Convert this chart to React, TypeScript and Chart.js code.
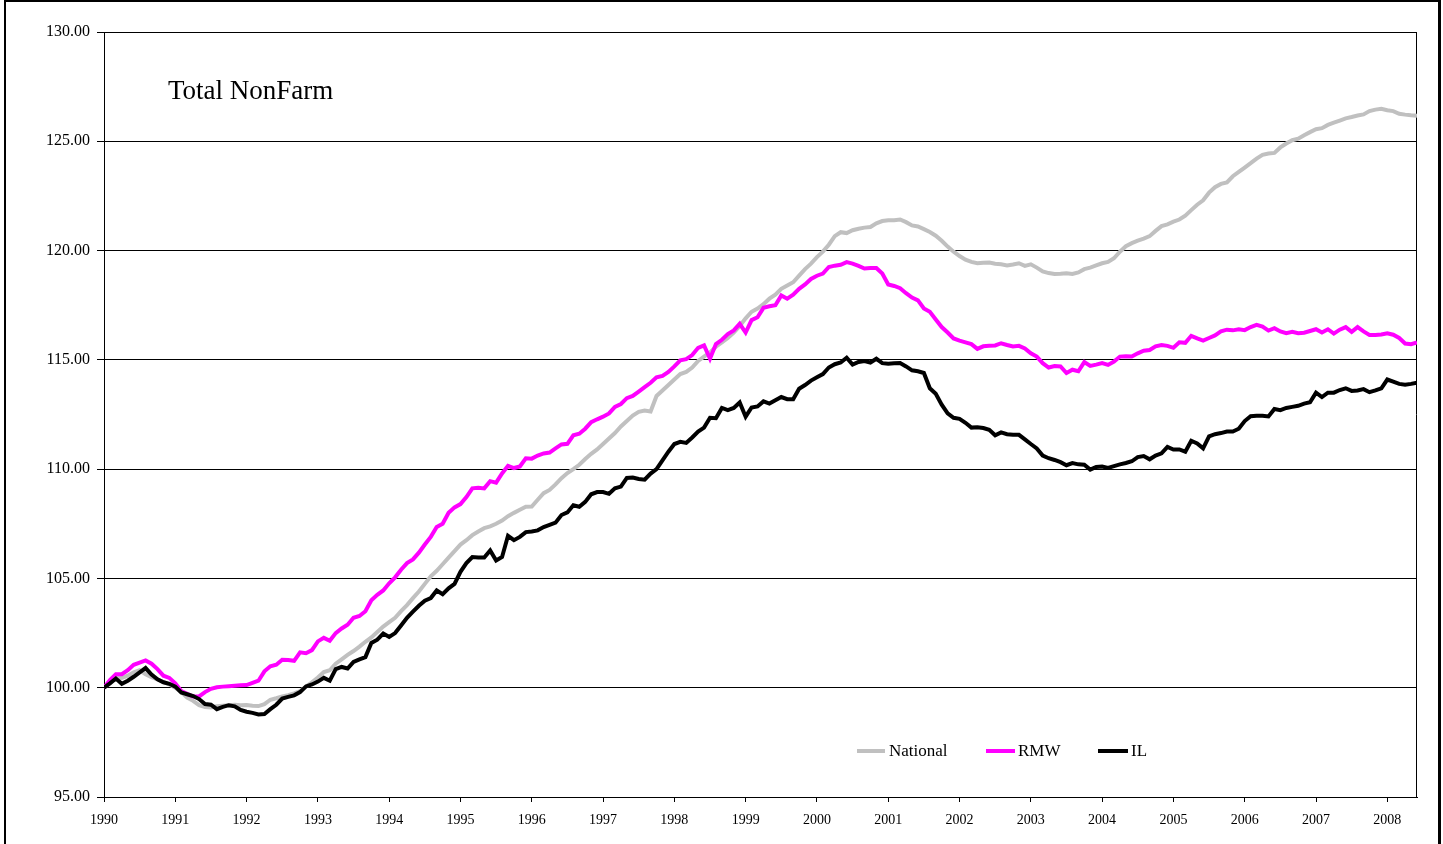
import { useEffect, useRef } from "react";
import { Chart, registerables } from "chart.js";

Chart.register(...registerables);

const TITLE = "Total NonFarm";
const START_YEAR = 1990;
const YEAR_LABELS = ["1990","1991","1992","1993","1994","1995","1996","1997","1998","1999","2000","2001","2002","2003","2004","2005","2006","2007","2008"];
const Y_MIN = 95;
const Y_MAX = 130;
const Y_STEP = 5;
const SERIES_NAMES = ["National", "RMW", "IL"];
const SERIES_COLORS = ["#c0c0c0", "#ff00ff", "#000000"];

// Monthly index values, Jan 1990 .. Jun 2008
const NATIONAL = [
  100.00,100.25,100.47,100.45,100.55,100.70,100.80,100.62,100.48,100.38,100.27,100.15,
  100.00,99.80,99.55,99.40,99.20,99.12,99.10,99.15,99.18,99.20,99.22,99.20,
  99.21,99.18,99.16,99.25,99.45,99.52,99.60,99.66,99.74,99.85,100.05,100.25,
  100.47,100.72,100.80,101.10,101.30,101.50,101.68,101.88,102.10,102.30,102.55,102.80,
  103.00,103.20,103.50,103.78,104.10,104.40,104.75,105.10,105.35,105.65,105.95,106.25,
  106.55,106.75,106.98,107.15,107.30,107.38,107.50,107.65,107.85,108.00,108.14,108.28,
  108.29,108.60,108.90,109.05,109.30,109.59,109.82,110.00,110.20,110.46,110.70,110.90,
  111.15,111.40,111.65,111.95,112.20,112.45,112.62,112.68,112.64,113.35,113.60,113.85,
  114.10,114.35,114.45,114.65,114.95,115.15,115.34,115.60,115.80,116.00,116.25,116.55,
  116.90,117.20,117.35,117.55,117.80,117.98,118.25,118.40,118.55,118.85,119.15,119.40,
  119.70,119.95,120.27,120.66,120.84,120.80,120.93,121.00,121.05,121.08,121.25,121.35,
  121.39,121.39,121.42,121.30,121.15,121.10,120.98,120.85,120.68,120.45,120.18,119.95,
  119.75,119.58,119.48,119.42,119.44,119.45,119.40,119.37,119.32,119.36,119.42,119.30,
  119.37,119.22,119.05,118.97,118.93,118.94,118.96,118.93,119.00,119.15,119.22,119.32,
  119.42,119.48,119.65,119.95,120.20,120.34,120.45,120.55,120.66,120.90,121.12,121.20,
  121.32,121.42,121.60,121.85,122.10,122.30,122.65,122.90,123.05,123.12,123.40,123.60,
  123.80,124.00,124.21,124.38,124.44,124.47,124.72,124.90,125.05,125.12,125.28,125.42,
  125.55,125.60,125.75,125.85,125.95,126.05,126.11,126.18,126.23,126.38,126.45,126.49,
  126.42,126.38,126.26,126.22,126.19,126.17
];

const RMW = [
  100.00,100.35,100.62,100.62,100.80,101.05,101.15,101.25,101.10,100.85,100.55,100.45,
  100.20,99.85,99.72,99.60,99.60,99.80,99.95,100.02,100.05,100.07,100.09,100.11,
  100.12,100.22,100.32,100.75,100.98,101.05,101.28,101.27,101.23,101.62,101.58,101.72,
  102.12,102.28,102.15,102.50,102.71,102.88,103.20,103.28,103.50,104.00,104.25,104.45,
  104.78,105.05,105.40,105.70,105.87,106.18,106.55,106.90,107.35,107.50,108.00,108.25,
  108.40,108.72,109.12,109.15,109.12,109.45,109.38,109.80,110.15,110.05,110.12,110.50,
  110.48,110.62,110.72,110.76,110.95,111.13,111.16,111.55,111.62,111.85,112.15,112.28,
  112.40,112.55,112.85,112.98,113.25,113.35,113.55,113.75,113.95,114.20,114.27,114.45,
  114.70,114.98,115.03,115.22,115.55,115.66,115.05,115.72,115.92,116.18,116.35,116.65,
  116.25,116.82,116.95,117.38,117.45,117.50,117.95,117.80,117.98,118.25,118.45,118.70,
  118.85,118.95,119.25,119.31,119.35,119.47,119.40,119.30,119.18,119.20,119.20,118.95,
  118.45,118.38,118.28,118.05,117.85,117.72,117.35,117.20,116.85,116.50,116.25,115.98,
  115.88,115.80,115.72,115.50,115.62,115.64,115.66,115.76,115.68,115.61,115.64,115.52,
  115.30,115.15,114.85,114.65,114.72,114.70,114.40,114.55,114.48,114.90,114.72,114.78,
  114.85,114.77,114.92,115.15,115.17,115.15,115.30,115.42,115.45,115.62,115.68,115.64,
  115.55,115.80,115.78,116.10,115.98,115.88,116.00,116.12,116.30,116.38,116.35,116.40,
  116.36,116.50,116.60,116.52,116.34,116.45,116.30,116.22,116.28,116.22,116.24,116.32,
  116.40,116.25,116.40,116.20,116.38,116.50,116.28,116.50,116.30,116.14,116.14,116.16,
  116.22,116.15,116.00,115.75,115.72,115.80
];

const IL = [
  100.00,100.20,100.42,100.18,100.32,100.50,100.70,100.90,100.60,100.38,100.25,100.18,
  100.05,99.78,99.70,99.62,99.48,99.25,99.22,99.02,99.12,99.20,99.15,98.98,
  98.90,98.85,98.78,98.80,99.02,99.22,99.50,99.58,99.65,99.80,100.06,100.15,
  100.28,100.45,100.32,100.85,100.95,100.88,101.18,101.30,101.40,102.05,102.20,102.48,
  102.32,102.50,102.85,103.20,103.48,103.75,103.98,104.10,104.45,104.28,104.55,104.75,
  105.30,105.70,105.98,105.96,105.96,106.28,105.82,105.98,106.95,106.75,106.90,107.12,
  107.15,107.20,107.35,107.45,107.55,107.90,108.02,108.35,108.28,108.50,108.85,108.95,
  108.95,108.87,109.12,109.20,109.60,109.62,109.55,109.52,109.80,110.00,110.40,110.80,
  111.15,111.25,111.20,111.45,111.72,111.90,112.35,112.33,112.80,112.70,112.80,113.05,
  112.40,112.82,112.87,113.10,113.00,113.15,113.30,113.20,113.20,113.68,113.85,114.05,
  114.20,114.35,114.65,114.80,114.88,115.10,114.78,114.90,114.95,114.88,115.05,114.85,
  114.82,114.84,114.86,114.70,114.52,114.48,114.40,113.70,113.45,112.95,112.55,112.35,
  112.30,112.12,111.90,111.92,111.88,111.80,111.55,111.68,111.60,111.57,111.57,111.36,
  111.15,110.95,110.62,110.50,110.42,110.32,110.18,110.28,110.22,110.20,109.98,110.10,
  110.12,110.06,110.14,110.22,110.28,110.36,110.55,110.60,110.45,110.62,110.72,111.02,
  110.90,110.90,110.80,111.30,111.18,110.95,111.50,111.60,111.65,111.72,111.72,111.85,
  112.20,112.42,112.44,112.44,112.41,112.75,112.70,112.80,112.85,112.90,113.00,113.06,
  113.50,113.30,113.50,113.50,113.62,113.70,113.58,113.60,113.66,113.52,113.60,113.70,
  114.10,114.00,113.90,113.86,113.90,113.96
];

const FONT = "'Liberation Serif', 'Times New Roman', serif";

const toPoints = (arr: number[]) => arr.map((v, i) => ({ x: i, y: v }));

const decorPlugin = {
  id: "decor",
  beforeDatasetsDraw(chart: any) {
    const { ctx, chartArea } = chart;
    ctx.save();
    ctx.strokeStyle = "#000";
    ctx.lineWidth = 1;
    const rx = Math.round(chartArea.right) - 0.5;
    ctx.beginPath();
    ctx.moveTo(rx, chartArea.top);
    ctx.lineTo(rx, chartArea.bottom);
    ctx.stroke();
    ctx.restore();
  },
  afterDraw(chart: any) {
    const { ctx, chartArea } = chart;
    const L = chartArea.left;
    const T = chartArea.top;
    ctx.save();
    ctx.fillStyle = "#000";
    ctx.font = `27px ${FONT}`;
    ctx.textBaseline = "alphabetic";
    ctx.textAlign = "left";
    ctx.fillText(TITLE, L + 64, T + 67);

    const items = [
      { x0: 753, x1: 781, tx: 785 },
      { x0: 882, x1: 911, tx: 914 },
      { x0: 994, x1: 1024, tx: 1027 },
    ];
    const ly = T + 719;
    ctx.font = `17px ${FONT}`;
    ctx.textBaseline = "middle";
    items.forEach((it, k) => {
      ctx.strokeStyle = SERIES_COLORS[k];
      ctx.lineWidth = 4;
      ctx.beginPath();
      ctx.moveTo(L + it.x0, ly);
      ctx.lineTo(L + it.x1, ly);
      ctx.stroke();
      ctx.fillStyle = "#000";
      ctx.fillText(SERIES_NAMES[k], L + it.tx, ly + 1);
    });
    ctx.restore();
  },
};

export default function App() {
  const ref = useRef<HTMLCanvasElement | null>(null);

  useEffect(() => {
    if (!ref.current) return;
    const lastIndex = NATIONAL.length - 1;
    const chart = new Chart(ref.current, {
      type: "line",
      data: {
        datasets: [
          { label: SERIES_NAMES[2], data: toPoints(IL), borderColor: SERIES_COLORS[2], borderWidth: 4, pointRadius: 0, tension: 0, fill: false },
          { label: SERIES_NAMES[1], data: toPoints(RMW), borderColor: SERIES_COLORS[1], borderWidth: 4, pointRadius: 0, tension: 0, fill: false },
          { label: SERIES_NAMES[0], data: toPoints(NATIONAL), borderColor: SERIES_COLORS[0], borderWidth: 4, pointRadius: 0, tension: 0, fill: false },
        ],
      },
      options: {
        animation: false,
        responsive: false,
        devicePixelRatio: 1,
        layout: { padding: { top: 32, right: 26, left: 0, bottom: 0 } },
        plugins: { legend: { display: false }, tooltip: { enabled: false }, title: { display: false } },
        scales: {
          x: {
            type: "linear",
            min: 0,
            max: lastIndex,
            grid: { drawOnChartArea: false, drawTicks: true, tickLength: 5, tickColor: "#000", lineWidth: 1 },
            border: { display: true, color: "#000", width: 1 },
            afterBuildTicks: (axis: any) => {
              axis.ticks = YEAR_LABELS.map((_, k) => ({ value: k * 12 }));
            },
            afterFit: (axis: any) => { axis.height = 47; },
            ticks: {
              autoSkip: false,
              maxRotation: 0,
              padding: 10,
              color: "#000",
              font: { family: FONT, size: 14 },
              callback: (v: any) => YEAR_LABELS[Math.round(Number(v) / 12)] ?? String(START_YEAR + Number(v) / 12),
            },
          },
          y: {
            min: Y_MIN,
            max: Y_MAX,
            grid: { color: "#000", lineWidth: 1, drawTicks: true, tickLength: 7, tickColor: "#000" },
            border: { display: true, color: "#000", width: 1 },
            afterFit: (axis: any) => { axis.width = 104; },
            ticks: {
              stepSize: Y_STEP,
              padding: 7,
              color: "#000",
              font: { family: FONT, size: 16 },
              callback: (v: any) => Number(v).toFixed(2),
            },
          },
        },
      },
      plugins: [decorPlugin],
    });
    return () => chart.destroy();
  }, []);

  return (
    <div style={{ position: "absolute", left: 0, top: 0, width: 1443, height: 844, background: "#fff", overflow: "hidden" }}>
      <canvas ref={ref} width={1443} height={844} style={{ position: "absolute", left: 0, top: 0, width: 1443, height: 844 }} />
      <div
        style={{
          position: "absolute",
          left: 4,
          top: 0,
          width: 1437,
          height: 844,
          boxSizing: "border-box",
          borderLeft: "2px solid #000",
          borderTop: "2px solid #000",
          borderRight: "3px solid #000",
          pointerEvents: "none",
        }}
      />
    </div>
  );
}
